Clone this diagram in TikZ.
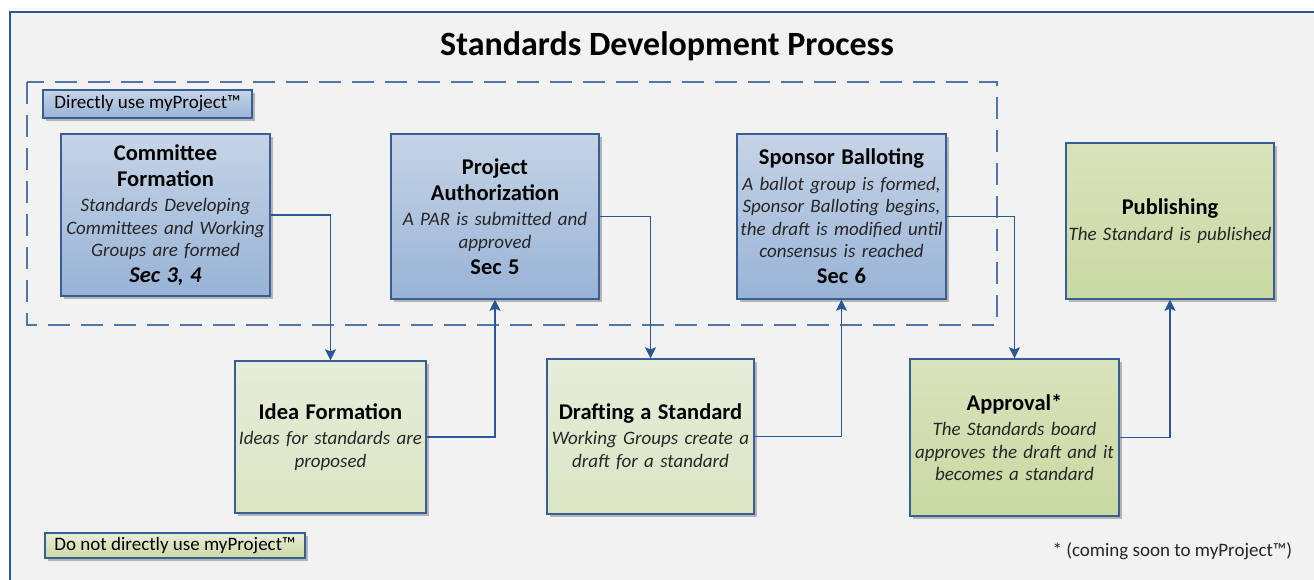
\documentclass[tikz,border=0pt]{standalone}
\usepackage{fontspec}
\setmainfont{Carlito}
\usetikzlibrary{arrows.meta,shadows}
\definecolor{frameblue}{HTML}{2F5597}
\definecolor{lineblue}{HTML}{2C5795}
\definecolor{edgeblue}{HTML}{395E96}
\definecolor{zoneblue}{HTML}{5276A8}
\definecolor{blueTop}{HTML}{C6D4E6}
\definecolor{blueBot}{HTML}{98B3D6}
\definecolor{paleTop}{HTML}{E6EDDA}
\definecolor{paleBot}{HTML}{DAE5C3}
\definecolor{greenTop}{HTML}{D8E3BC}
\definecolor{greenBot}{HTML}{C9D9A2}
\newcommand\boxhead{\fontsize{22.5}{26}\selectfont\bfseries}
\newcommand\boxtext{\par\vskip3pt\fontsize{19}{22.5}\selectfont\itshape\color{black!85}}
\begin{document}
\begin{tikzpicture}[x=1pt,y=-1pt,>={Stealth[length=11pt,width=11pt,inset=2pt]},font=\fontsize{19}{22.5}\selectfont]
	\tikzset{stage/.style={draw=edgeblue,line width=1.4pt,inner sep=0pt,align=center,
			drop shadow={shadow xshift=3pt,shadow yshift=-3pt,fill=black!45,opacity=.6}},
		bluebox/.style={stage,top color=blueTop,bottom color=blueBot},
		palebox/.style={stage,top color=paleTop,bottom color=paleBot},
		greenbox/.style={stage,top color=greenTop,bottom color=greenBot},
		flow/.style={->,draw=lineblue,line width=1.5pt},
		zone/.style={draw=zoneblue,line width=1.5pt,dash pattern=on 22pt off 11pt}}
	% page and frame
	\fill[white] (0,0) rectangle (1314,580);
	\useasboundingbox (0,0) rectangle (1314,580);
	\filldraw[fill=black!5,draw=frameblue,line width=1.5pt] (10,12) rectangle (1330,600);
	\node[anchor=base] (title) at (667,56) {\fontsize{34}{40}\selectfont\bfseries Standards Development Process};
	\draw[zone] (27,82) rectangle (997,325);
	%--------- legend
	\node[bluebox,minimum width=209pt,minimum height=28pt] (lblblue) at (147.5,104) {Directly use myProject™};
	\node[greenbox,top color=greenTop!60,minimum width=260pt,minimum height=25pt] (lblgreen) at (175,545.5) {Do not directly use myProject™};
	\node[anchor=base west,text=black!85] (note) at (1049,556) {* (coming soon to myProject™)};
	%--------- stages
	\node[bluebox,text width=205pt,minimum width=209pt,minimum height=162pt] (cmte) at (165.5,215)
	{{\boxhead Committee\\Formation\par}{\boxtext Standards Developing\\Committees and Working\\Groups are formed\par}{\boxhead\itshape Sec 3, 4\par}};
	\node[bluebox,text width=204pt,minimum width=208pt,minimum height=165pt] (auth) at (495,216.5)
	{{\boxhead Project\\Authorization\par}{\boxtext A PAR is submitted and\\approved\par}{\boxhead Sec 5\par}};
	\node[bluebox,text width=205pt,minimum width=209pt,minimum height=165pt] (ballot) at (841.5,216.5)
	{{\boxhead Sponsor Balloting\par}{\boxtext A ballot group is formed,\\Sponsor Balloting begins,\\the draft is modified until\\consensus is reached\par}{\boxhead Sec 6\par}};
	\node[greenbox,text width=204pt,minimum width=208pt,minimum height=156pt] (pub) at (1170,221)
	{{\boxhead Publishing\par}{\boxtext The Standard is published\par}};
	\node[palebox,text width=187pt,minimum width=191pt,minimum height=152pt] (idea) at (330.5,437)
	{{\boxhead Idea Formation\par}{\boxtext Ideas for standards are\\proposed\par}};
	\node[palebox,text width=203pt,minimum width=207pt,minimum height=155pt] (draft) at (650.5,436.5)
	{{\boxhead Drafting a Standard\par}{\boxtext Working Groups create a\\draft for a standard\par}};
	\node[greenbox,text width=205pt,minimum width=209pt,minimum height=157pt] (appr) at (1014.5,437.5)
	{{\boxhead Approval*\par}{\boxtext The Standards board\\approves the draft and it\\becomes a standard\par}};
	%--------- flow
	\draw[flow] (cmte.east) -| (idea.north);
	\draw[flow] (idea.east) -| (auth.south);
	\draw[flow] (auth.east) -| (draft.north);
	\draw[flow] (draft.east) -| (ballot.south);
	\draw[flow] (ballot.east) -| (appr.north);
	\draw[flow] (appr.east) -| (pub.south);
\end{tikzpicture}
\end{document}
